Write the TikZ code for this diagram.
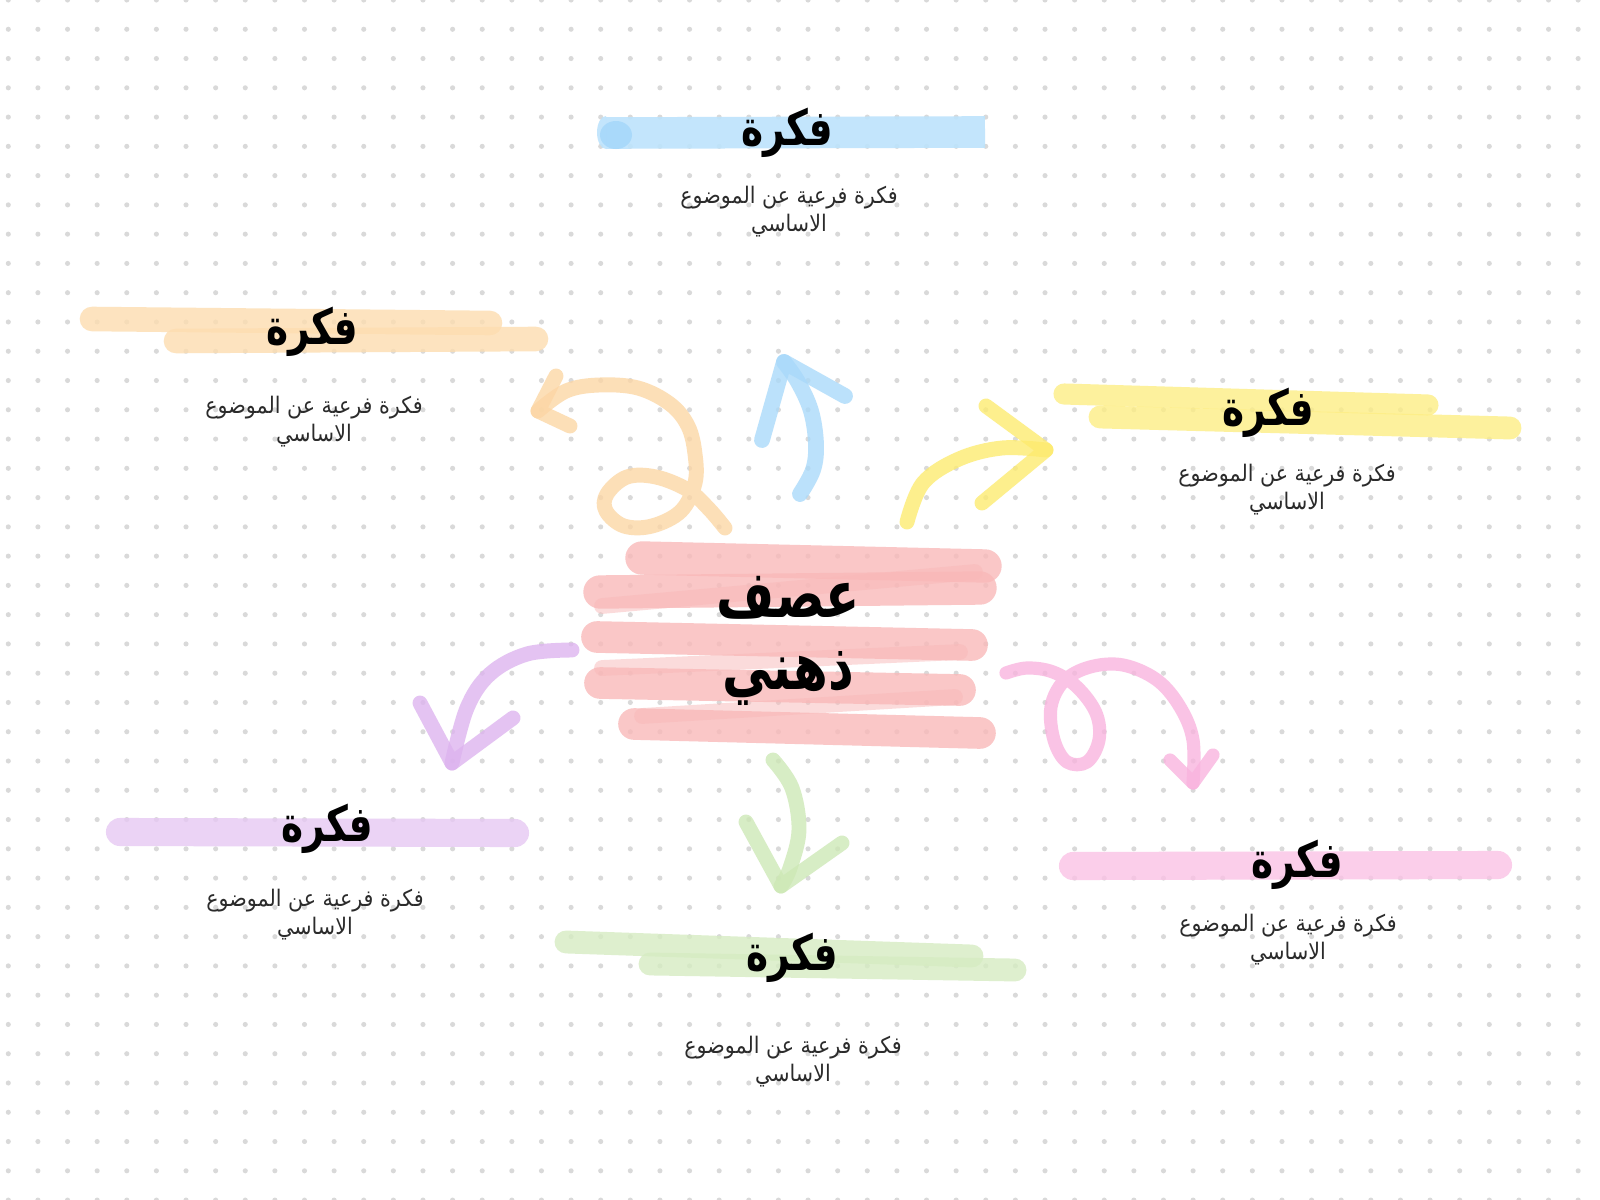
\documentclass[tikz,border=0pt]{standalone}
\usepackage{fontspec}
\usepackage{graphicx}
\TeXXeTstate=1
\newfontfamily\arabicfont[Script=Arabic]{DejaVu Sans}
\newcommand{\ideaword}[1]{\scalebox{0.82}[1.08]{\beginR #1\endR}}
\newcommand{\subline}[1]{\scalebox{0.94}[1.04]{\beginR #1\endR}}
\newcommand{\coreline}[1]{\scalebox{0.84}[1.1]{\beginR #1\endR}}
\definecolor{dotgray}{HTML}{D9D9D9}
\definecolor{subgray}{HTML}{2B2B2B}
\definecolor{hlblue}{HTML}{BDE3FC}
\definecolor{hlblueD}{HTML}{A3D6FA}
\definecolor{hlorange}{HTML}{FDDDB0}
\definecolor{hlyellow}{HTML}{FDEE85}
\definecolor{hlred}{HTML}{F9B9B9}
\definecolor{hlpurple}{HTML}{E6C8F3}
\definecolor{hlgreen}{HTML}{D6ECC2}
\definecolor{hlpink}{HTML}{FAC2E5}
\definecolor{arblue}{HTML}{A9D9FA}
\definecolor{arorange}{HTML}{FCD6A4}
\definecolor{aryellow}{HTML}{FDEB6E}
\definecolor{arpurple}{HTML}{DDB3EF}
\definecolor{argreen}{HTML}{CDE8B5}
\definecolor{arpink}{HTML}{F9B3DE}
\tikzset{
  hlstroke/.style={line width=#1, line cap=round, draw opacity=0.8},
  arrowstroke/.style={line width=8.5pt, line cap=round, line join=round, draw opacity=0.78},
  ideatitle/.style={font=\arabicfont\bfseries\fontsize{26}{30}\selectfont, text=black, inner sep=0pt},
  ideasub/.style={font=\arabicfont\fontsize{12.5}{16}\selectfont, text=subgray, align=center, inner sep=0pt},
  coretext/.style={font=\arabicfont\bfseries\fontsize{34}{41}\selectfont, text=black, align=center, inner sep=0pt}
}
\begin{document}
\begin{tikzpicture}[x=0.02cm,y=-0.02cm]
\fill[white] (0,0) rectangle (1600,1200);
\useasboundingbox (0,0) rectangle (1600,1200);
% dot grid
\foreach \i in {0,...,53}{
  \foreach \j in {0,...,41}{
    \fill[dotgray] (8.3+29.62*\i, 29.27*\j) circle[radius=1.45pt];
  }
}
% ---------- highlight strokes ----------
% blue
\draw[hlblue, line width=18pt, draw opacity=0.9] (606,133) -- (985,132);
\fill[hlblue, opacity=0.9] (606,116) arc[start angle=90, end angle=270, x radius=9, y radius=-16.5] -- cycle;
\fill[hlblueD, opacity=0.8] (616,135) ellipse[x radius=16, y radius=14];
% orange
\draw[hlorange, hlstroke=14pt] (92,319) -- (490,323);
\draw[hlorange, hlstroke=14pt] (176,341) -- (536,339);
% yellow
\draw[hlyellow, hlstroke=12pt] (1064,394) -- (1428,405);
\draw[hlyellow, hlstroke=13pt] (1100,417) -- (1510,428);
% purple
\draw[hlpurple, hlstroke=16pt] (120,832) -- (515,833);
% green
\draw[hlgreen, hlstroke=13pt] (566,942) -- (972,956);
\draw[hlgreen, hlstroke=13pt] (650,964) -- (1015,970);
% pink
\draw[hlpink, hlstroke=16pt] (1073,866) -- (1498,865);
% red centre
\draw[hlred, hlstroke=19pt] (642,558) -- (985,566);
\draw[hlred, hlstroke=19pt] (600,592) -- (980,588);
\draw[hlred, hlstroke=9pt, draw opacity=0.5] (975,572) -- (602,606);
\draw[hlred, hlstroke=18pt] (597,637) -- (972,645);
\draw[hlred, hlstroke=18pt] (600,683) -- (960,690);
\draw[hlred, hlstroke=9pt, draw opacity=0.5] (960,652) -- (602,668);
\draw[hlred, hlstroke=18pt] (634,724) -- (980,733);
\draw[hlred, hlstroke=9pt, draw opacity=0.5] (955,697) -- (642,716);
% ---------- arrow anchor coordinates ----------
\coordinate (oS) at (725,528);
\coordinate (oT) at (538,411);
\coordinate (bS) at (800,494);
\coordinate (bT) at (784,362);
\coordinate (yS) at (907,522);
\coordinate (yT) at (1046,450);
\coordinate (pS) at (572,650);
\coordinate (pT) at (452,763);
\coordinate (gS) at (773,760);
\coordinate (gT) at (781,886);
\coordinate (kS) at (1006,673);
\coordinate (kT) at (1193,783);
% orange loop arrow
\draw[arorange, arrowstroke] plot[smooth, tension=0.6] coordinates {(oS) (709,509) (688,490) (656,477) (627,477) (607,494) (606,511) (624,526) (652,526) (681,511) (695,483) (695,454) (688,426) (670,404) (638,388) (599,385) (566,391) (oT)};
\draw[arorange, arrowstroke] (556,376) -- (oT) -- (570,426);
% blue arrow
\draw[arblue, arrowstroke, line width=9pt] plot[smooth, tension=0.6] coordinates {(bS) (813,470) (816,444) (811,411) (798,382) (bT)};
\draw[arblue, arrowstroke, line width=9pt] (762,440) -- (bT) -- (845,396);
% yellow arrow
\draw[aryellow, arrowstroke] plot[smooth, tension=0.6] coordinates {(yS) (923,483) (959,459) (1002,448) (yT)};
\draw[aryellow, arrowstroke] (986,406) -- (yT) -- (982,503);
% purple arrow
\draw[arpurple, arrowstroke] plot[smooth, tension=0.6] coordinates {(pS) (527,654) (490,674) (467,708) (pT)};
\draw[arpurple, arrowstroke] (420,703) -- (pT) -- (513,718);
% green arrow
\draw[argreen, arrowstroke] plot[smooth, tension=0.6] coordinates {(gS) (792,788) (799,830) (790,868) (gT)};
\draw[argreen, arrowstroke] (746,822) -- (gT) -- (842,843);
% pink loop arrow
\draw[arpink, arrowstroke, line width=7.5pt] plot[smooth, tension=0.6] coordinates {(kS) (1027,668) (1053,672) (1077,687) (1096,713) (1099,740) (1087,762) (1067,762) (1054,740) (1051,707) (1064,681) (1090,667) (1123,665) (1157,680) (1180,707) (1193,740) (kT)};
\draw[arpink, arrowstroke, line width=7.5pt] (1170,760) -- (kT) -- (1213,755);
% ---------- texts ----------
\node[coretext] (core) at (788,641) {\coreline{عصف}\\\coreline{ذهني}};
\node[ideatitle] (t1) at (787,133) {\ideaword{فكرة}};
\node[ideasub] (s1) at (789,212) {\subline{فكرة فرعية عن الموضوع}\\\subline{الاساسي}};
\node[ideatitle] (t2) at (312,332) {\ideaword{فكرة}};
\node[ideasub] (s2) at (314,422) {\subline{فكرة فرعية عن الموضوع}\\\subline{الاساسي}};
\node[ideatitle] (t3) at (1268,413) {\ideaword{فكرة}};
\node[ideasub] (s3) at (1287,490) {\subline{فكرة فرعية عن الموضوع}\\\subline{الاساسي}};
\node[ideatitle] (t4) at (327,829) {\ideaword{فكرة}};
\node[ideasub] (s4) at (315,915) {\subline{فكرة فرعية عن الموضوع}\\\subline{الاساسي}};
\node[ideatitle] (t5) at (792,958) {\ideaword{فكرة}};
\node[ideasub] (s5) at (793,1062) {\subline{فكرة فرعية عن الموضوع}\\\subline{الاساسي}};
\node[ideatitle] (t6) at (1297,865) {\ideaword{فكرة}};
\node[ideasub] (s6) at (1288,940) {\subline{فكرة فرعية عن الموضوع}\\\subline{الاساسي}};
\end{tikzpicture}
\end{document}
